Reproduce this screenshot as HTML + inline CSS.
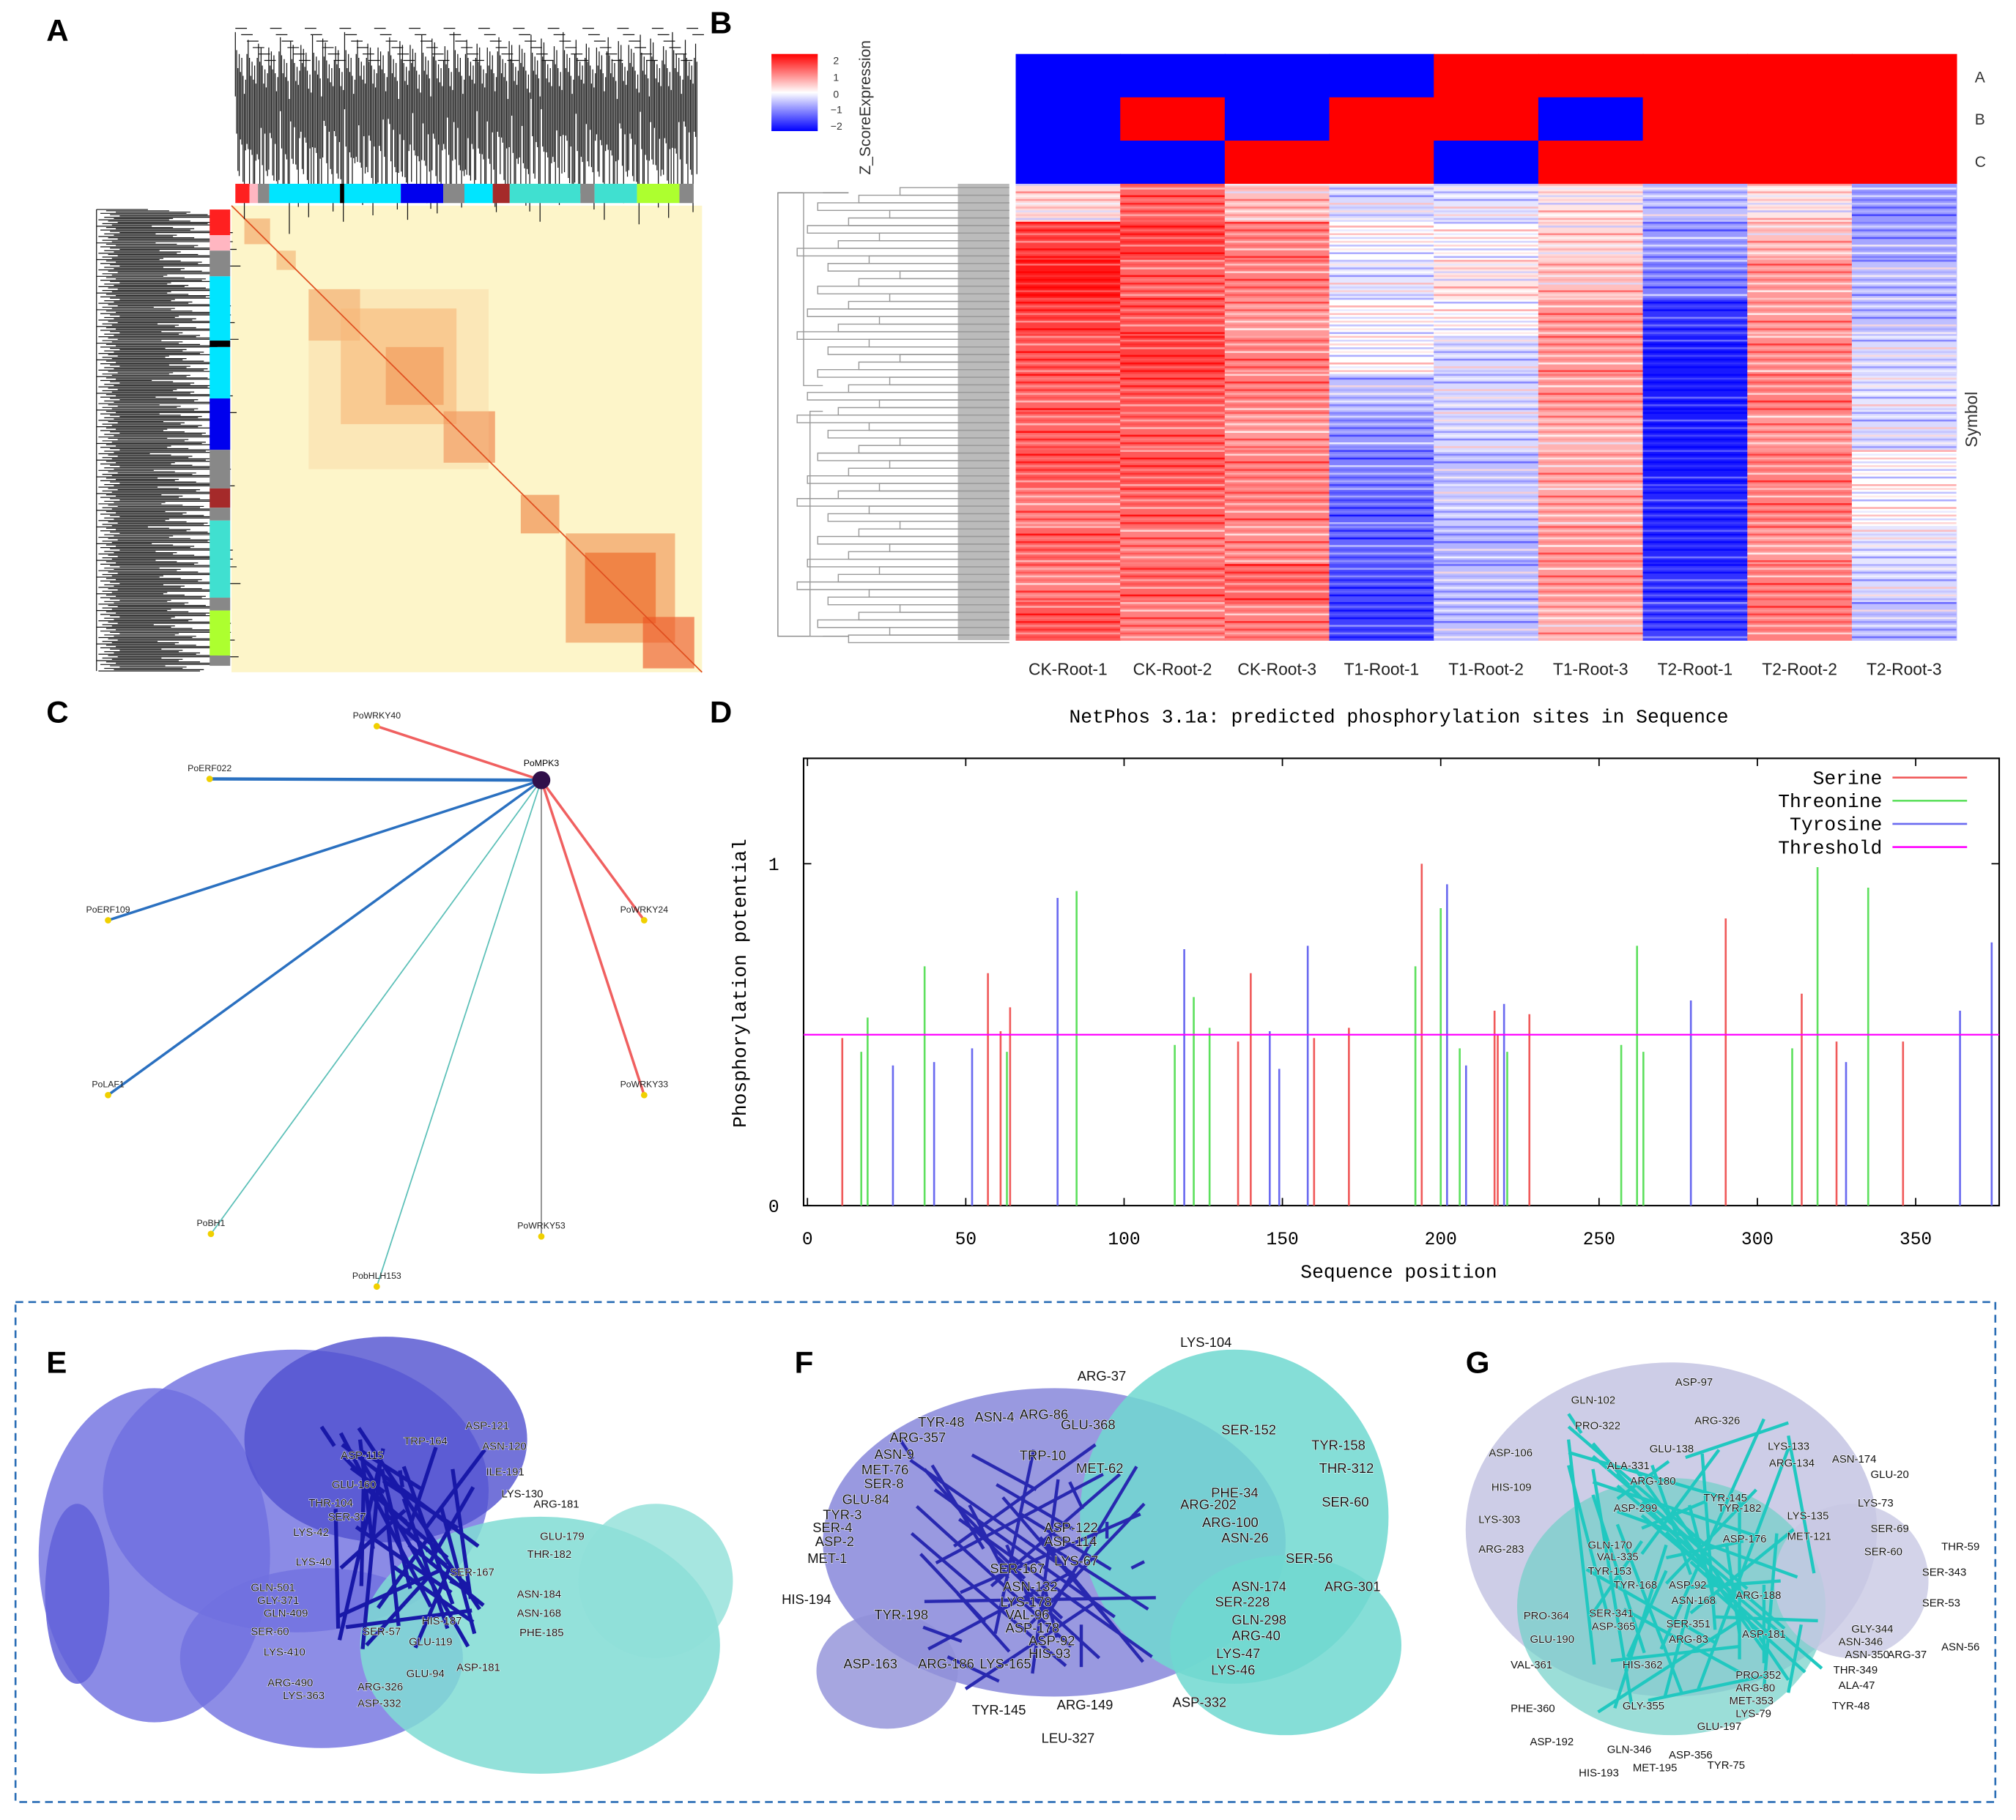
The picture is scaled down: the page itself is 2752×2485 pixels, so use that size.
<!DOCTYPE html>
<html><head><meta charset="utf-8"><style>
html,body{margin:0;padding:0;background:#fff;}
svg{display:block;font-family:"Liberation Sans",sans-serif;}
.mono{font-family:"Liberation Mono",monospace;}
</style></head><body>
<svg id="fig" width="2752" height="2485" viewBox="0 0 1568 1416" xmlns="http://www.w3.org/2000/svg">
<rect width="1568" height="1416" fill="#fff"/>
<g font-weight="bold" font-size="24">
<text x="36" y="32">A</text><text x="552" y="26">B</text><text x="36" y="562">C</text><text x="552" y="562">D</text>
<text x="36" y="1068">E</text><text x="618" y="1068">F</text><text x="1140" y="1068">G</text>
</g>
<g id="panelA">
<rect x="180" y="160" width="366" height="363" fill="#fdf5c9"/>
<g id="tomBlocks"></g>
<g id="topDendro" stroke="#111" stroke-width="0.7"></g>
<g id="leftDendro" stroke="#111" stroke-width="0.7"></g>
<g id="topColors"></g><g id="sideColors"></g>
</g>
<g id="panelB">
<defs><linearGradient id="cbar" x1="0" y1="0" x2="0" y2="1">
<stop offset="0" stop-color="#f00"/><stop offset="0.5" stop-color="#fff"/><stop offset="1" stop-color="#00f"/></linearGradient></defs>
<rect x="600" y="42" width="36" height="60" fill="url(#cbar)"/>
<g font-size="8" fill="#333"><text x="648" y="50">2</text><text x="648" y="63">1</text><text x="648" y="76">0</text><text x="646" y="88">−1</text><text x="646" y="101">−2</text></g>
<text transform="translate(677,136) rotate(-90)" font-size="12" fill="#333">Z_ScoreExpression</text>
<g id="annot"></g><g id="heat"></g><g id="bDendro" stroke="#999" stroke-width="0.8" fill="none"></g>
<g font-size="12" fill="#333"><text x="1536" y="64">A</text><text x="1536" y="97">B</text><text x="1536" y="130">C</text></g>
<text transform="translate(1538,348) rotate(-90)" font-size="13" fill="#333">Symbol</text>
<g id="colLabels" font-size="13" fill="#222" text-anchor="middle"></g>
</g>
<g id="panelC"></g>
<g id="panelD" class="mono">
<text x="1088" y="562" font-size="15" text-anchor="middle">NetPhos 3.1a: predicted phosphorylation sites in Sequence</text>
<rect x="625" y="590" width="930" height="348" fill="none" stroke="#000" stroke-width="1.2"/>
<g id="dTicks" font-size="14"></g>
<g id="dBars"></g>
<line id="thr" stroke="#f0f" stroke-width="1.3"/>
<text x="580" y="765" transform="rotate(-90 580 765)" font-size="15" text-anchor="middle">Phosphorylation potential</text>
<text x="1088" y="994" font-size="15" text-anchor="middle">Sequence position</text>
<g id="legend" font-size="15"></g>
</g>
<rect x="12" y="1013" width="1540" height="389" fill="none" stroke="#2a6db5" stroke-width="1.5" stroke-dasharray="6,4"/>
<g id="structs"></g>
</svg>
<script>
var NS="http://www.w3.org/2000/svg";
function mk(p,t,a){var e=document.createElementNS(NS,t);for(var k in a)e.setAttribute(k,a[k]);p.appendChild(e);return e;}
function $(i){return document.getElementById(i);}
var serinePos=[11,57,61,64,136,140,160,171,194,217,218,228,290,314,325,346];
var serineVal=[0.49,0.68,0.51,0.58,0.48,0.68,0.49,0.52,1.0,0.57,0.5,0.56,0.84,0.62,0.48,0.48];
var threoninePos=[17,19,37,63,85,116,122,127,192,200,206,221,257,262,264,311,319,335];
var threonineVal=[0.45,0.55,0.7,0.45,0.92,0.47,0.61,0.52,0.7,0.87,0.46,0.45,0.47,0.76,0.45,0.46,0.99,0.93];
var tyrosinePos=[27,40,52,79,119,146,149,158,202,208,220,279,328,364,374];
var tyrosineVal=[0.41,0.42,0.46,0.9,0.75,0.51,0.4,0.76,0.94,0.41,0.59,0.6,0.42,0.57,0.77];
var threshold=0.5;
var xTicks=[0,50,100,150,200,250,300,350];
var yTicks=[0,1];
function xs(v){return 628+v*2.463;}
function ys(v){return 938-v*266;}
(function(){
 var t=$("dTicks");
 xTicks.forEach(function(v){
  var l=mk(t,"line",{x1:xs(v),x2:xs(v),y1:938,y2:932,stroke:"#000"});
  
  
  mk(t,"line",{x1:xs(v),x2:xs(v),y1:590,y2:596,stroke:"#000"});
  var s=mk(t,"text",{x:xs(v),y:968,"text-anchor":"middle"});s.textContent=v;
  
  
 });
 yTicks.forEach(function(v){
  mk(t,"line",{x1:625,x2:631,y1:ys(v),y2:ys(v),stroke:"#000"});
  mk(t,"line",{x1:1549,x2:1555,y1:ys(v),y2:ys(v),stroke:"#000"});
  var s=mk(t,"text",{x:606,y:ys(v)+5,"text-anchor":"end"});s.textContent=v;
  
  
 });
 var b=$("dBars");
 function draw(P,V,c,n){P.forEach(function(p,i){var l=mk(b,"line",{x1:xs(p),x2:xs(p),y1:938,y2:ys(V[i]),stroke:c,"stroke-width":1.5});
  
  });}
 draw(serinePos,serineVal,"#f05a5a","serine-bar");
 draw(threoninePos,threonineVal,"#5ee05e","threonine-bar");
 draw(tyrosinePos,tyrosineVal,"#6a6af0","tyrosine-bar");
 var th=$("thr");th.setAttribute("x1",625);th.setAttribute("x2",1555);th.setAttribute("y1",ys(threshold));th.setAttribute("y2",ys(threshold));
 
 
 var lg=$("legend");var names=["Serine","Threonine","Tyrosine","Threshold"],cols=["#f05a5a","#5ee05e","#6a6af0","#f0f"];
 names.forEach(function(n,i){var y=610+i*18;var tx=mk(lg,"text",{x:1464,y:y,"text-anchor":"end"});tx.textContent=n;
  
  
  mk(lg,"line",{x1:1472,x2:1530,y1:y-5,y2:y-5,stroke:cols[i],"stroke-width":1.5});});
})();
var sampleNames=["CK-Root-1","CK-Root-2","CK-Root-3","T1-Root-1","T1-Root-2","T1-Root-3","T2-Root-1","T2-Root-2","T2-Root-3"];
var annotA=[0,0,0,0,1,1,1,1,1];
var annotB=[0,1,0,1,1,0,1,1,1];
var annotC=[0,0,1,1,0,1,1,1,1];
var z_CK1=[0.3,1.5,1.8,1.5,1.3,1.2,1.2,1.3,1.0,1.2,1.0,1.3];
var z_CK2=[1.2,1.5,1.2,1.3,1.5,1.3,1.2,1.3,1.2,1.0,1.2,1.0];
var z_CK3=[0.5,1.0,1.0,0.8,1.0,1.0,0.8,1.0,1.0,0.9,1.2,1.0];
var z_T11=[-0.3,0,-0.2,0,0,-0.5,-0.8,-1,-1.2,-1.2,-1.4,-1.5];
var z_T12=[-0.2,0,0.2,0,-0.3,-0.3,-0.3,-0.5,-0.4,-0.6,-0.5,-0.5];
var z_T13=[0.2,0.3,0.5,0.8,0.8,0.8,0.6,0.7,0.7,0.8,0.8,0.6];
var z_T21=[-0.5,-0.8,-1,-1.6,-1.8,-1.8,-1.8,-1.8,-1.7,-1.7,-1.6,-1.5];
var z_T22=[0.2,0.5,0.8,0.8,0.9,1.0,0.8,1.0,1.0,0.8,1.0,1.0];
var z_T23=[-0.8,-0.7,-0.5,-0.5,-0.3,-0.2,-0.3,0,0,-0.2,-0.3,-0.5];
var zCols=[z_CK1,z_CK2,z_CK3,z_T11,z_T12,z_T13,z_T21,z_T22,z_T23];
function zc(v){v=Math.max(-2,Math.min(2,v))/2;var k=Math.round(255*(1-Math.abs(v)));return v>=0?"rgb(255,"+k+","+k+")":"rgb("+k+","+k+",255)";}
(function(){
 var x0=790,cw=81.3,an=$("annot");
 [annotA,annotB,annotC].forEach(function(r,ri){r.forEach(function(v,i){var e=mk(an,"rect",{x:x0+i*cw,y:42+ri*33.7,width:cw+0.5,height:34,fill:v?"#f00":"#00f"});
  
  });});
 var h=$("heat"),rh=355/zCols[0].length;
 zCols.forEach(function(col,i){
  col.forEach(function(v,j){
   var e=mk(h,"rect",{x:x0+i*cw,y:143+j*rh,width:cw+0.5,height:rh+0.5,fill:zc(v)});
   
   
   for(var s=0;s<10;s++){var d=((j*7+s*13+i*5)%9-4)*0.2;mk(h,"rect",{x:x0+i*cw,y:143+j*rh+s*rh/10,width:cw,height:rh/20,fill:zc(v+d),opacity:0.8});}
  });
  var t=mk($("colLabels"),"text",{x:x0+i*cw+cw/2,y:525});t.textContent=sampleNames[i];
  
  
 });
 var g=$("bDendro");
 mk(g,"rect",{x:745,y:143,width:40,height:355,fill:"#aaa",stroke:"none",opacity:0.8});
 for(var k=0;k<60;k++){var y=146+k*5.9,x=700-((k*37)%11)*8;mk(g,"path",{d:"M785 "+y+" H"+x+" V"+(y+5.9)+" H785"});}
 mk(g,"path",{d:"M660 150 H605 V495 H660",stroke:"#888"});
 mk(g,"path",{d:"M640 150 H625 V300 H640 M640 320 H630 V495 H640"});
})();
(function(){
 var tb=$("tomBlocks");
 var blocks=[[190,170,20,"#f2a060"],[215,195,15,"#f4b070"],[240,225,40,"#f0a060"],[265,240,90,"#f6b070"],[300,270,45,"#ee8040"],[345,320,40,"#ee7a40"],[405,385,30,"#ee8040"],[440,415,85,"#f09050"],[455,430,55,"#ec6020"],[500,480,40,"#ec5020"]];
 blocks.forEach(function(b){var e=mk(tb,"rect",{x:b[0],y:b[1],width:b[2],height:b[2],fill:b[3],opacity:0.6});
  
  });
 mk(tb,"rect",{x:240,y:225,width:140,height:140,fill:"#f8c890",opacity:0.3});
 mk(tb,"line",{x1:180,y1:160,x2:546,y2:523,stroke:"#e05020","stroke-width":1});
 var td=$("topDendro");
 for(var i=0;i<360;i++){var x=183+i*1,y=25+((i*53)%17)*2+((i*7)%5)*5;mk(td,"line",{x1:x,x2:x,y1:y,y2:y+50+((i*29)%23)*2.5});}
 for(var i=0;i<80;i++){var x=183+i*4.5;mk(td,"line",{x1:x,x2:x+9,y1:22+(i%6)*5,y2:22+(i%6)*5});}
 var ld=$("leftDendro");
 for(var i=0;i<360;i++){var y=163+i*1,x=75+((i*31)%13)*1.5;mk(ld,"line",{y1:y,y2:y,x1:x,x2:x+40+((i*41)%19)*3});}
 mk(ld,"line",{x1:75,x2:75,y1:163,y2:522});
 var topC=[["#ff2020",10,8],["#ffb6c1",6],["#888",8],["#00e5ff",50],["#000",3],["#00e5ff",40],["#0000ee",30],["#888",15],["#00e5ff",20],["#a52a2a",12],["#40e0d0",50],["#888",10],["#40e0d0",30],["#adff2f",30],["#888",10]];
 var x=183;topC.forEach(function(c){mk($("topColors"),"rect",{x:x,y:143,width:c[1]*1.1,height:15,fill:c[0]});x+=c[1]*1.1;});
 var sideC=[["#ff2020",20],["#ffb6c1",12],["#888",20],["#00e5ff",50],["#000",5],["#00e5ff",40],["#0000ee",40],["#888",30],["#a52a2a",15],["#888",10],["#40e0d0",60],["#888",10],["#adff2f",35],["#888",8]];
 var y=163;sideC.forEach(function(c){mk($("sideColors"),"rect",{x:163,y:y,width:16,height:c[1],fill:c[0]});y+=c[1];});
})();
(function(){
 var g=$("panelC"),hx=421,hy=607;
 var nodes=[["PoWRKY40",293,565,"#f06060",2],["PoERF022",163,606,"#2a70c0",2.5],["PoERF109",84,716,"#2a70c0",2],["PoLAF1",84,852,"#2a70c0",2],["PoBH1",164,960,"#5cc0b8",1],["PobHLH153",293,1001,"#5cc0b8",1],["PoWRKY53",421,962,"#888",1],["PoWRKY33",501,852,"#f06060",2],["PoWRKY24",501,716,"#f06060",2]];
 nodes.forEach(function(n){var l=mk(g,"line",{x1:hx,y1:hy,x2:n[1],y2:n[2],stroke:n[3],"stroke-width":n[4]});
  
  
  var c=mk(g,"circle",{cx:n[1],cy:n[2],r:2.5,fill:"#f0d000"});
  
  
  var t=mk(g,"text",{x:n[1],y:n[2]-6,"font-size":7,"text-anchor":"middle",fill:"#222"});t.textContent=n[0];});
 var h=mk(g,"circle",{cx:hx,cy:hy,r:7,fill:"#30104a"});
 
 
 var t=mk(g,"text",{x:hx,y:hy-11,"font-size":7,"text-anchor":"middle"});t.textContent="PoMPK3";
})();
(function(){
 var g=$("structs");
 function blob(cx,cy,rx,ry,c,o){mk(g,"ellipse",{cx:cx,cy:cy,rx:rx,ry:ry,fill:c,opacity:o});}
 blob(120,1210,90,130,"#6e6ee0",0.8);blob(230,1160,150,110,"#6e6ee0",0.8);blob(300,1120,110,80,"#5050d0",0.8);blob(250,1290,110,70,"#7070e0",0.8);blob(60,1240,25,70,"#6060d8",0.85);
 blob(420,1280,140,100,"#80dcd4",0.85);blob(510,1230,60,60,"#90e0d8",0.8);
 blob(820,1200,180,120,"#8080d8",0.8);blob(960,1180,120,130,"#70d8d0",0.85);blob(1000,1280,90,70,"#70d8d0",0.85);blob(690,1300,55,45,"#9090d8",0.8);
 blob(1300,1190,160,130,"#c8c8e4",0.9);blob(1300,1250,120,100,"#70d0c8",0.7);blob(1440,1230,60,60,"#c8c8e4",0.8);
 for(var i=0;i<40;i++){mk(g,"line",{x1:250+(i*17)%120,y1:1110+(i*23)%170,x2:260+(i*29)%120,y2:1125+(i*31)%170,stroke:"#1818a8","stroke-width":3});}
 for(var i=0;i<40;i++){mk(g,"line",{x1:700+(i*19)%200,y1:1120+(i*23)%180,x2:710+(i*29)%200,y2:1135+(i*31)%180,stroke:"#2828b0","stroke-width":2.5});}
 for(var i=0;i<50;i++){mk(g,"line",{x1:1220+(i*19)%190,y1:1100+(i*23)%220,x2:1230+(i*29)%190,y2:1115+(i*31)%220,stroke:"#20c8c0","stroke-width":2.5});}
 var E=[["ASP-121",362,1112],["ASN-120",375,1128],["TRP-164",314,1124],["ASP-115",265,1135],["ILE-191",378,1148],["GLU-160",258,1158],["LYS-130",390,1165],["ARG-181",415,1173],["THR-104",240,1172],["SER-37",255,1183],["GLU-179",420,1198],["LYS-42",228,1195],["THR-182",410,1212],["LYS-40",230,1218],["SER-167",350,1226],["GLN-501",195,1238],["ASN-184",402,1243],["GLY-371",200,1248],["ASN-168",402,1258],["GLN-409",205,1258],["HIS-187",328,1264],["PHE-185",404,1273],["SER-60",195,1272],["SER-57",282,1272],["GLU-119",318,1280],["LYS-410",205,1288],["GLU-94",316,1305],["ASP-181",355,1300],["ARG-490",208,1312],["ARG-326",278,1315],["LYS-363",220,1322],["ASP-332",278,1328]];
 var F=[["LYS-104",918,1048],["ARG-37",838,1074],["TYR-48",714,1110],["ASN-4",758,1106],["ARG-86",793,1104],["GLU-368",825,1112],["ARG-357",692,1122],["SER-152",950,1116],["TYR-158",1020,1128],["ASN-9",680,1135],["TRP-10",793,1136],["MET-62",837,1146],["THR-312",1026,1146],["MET-76",670,1147],["SER-8",672,1158],["PHE-34",942,1165],["GLU-84",655,1170],["SER-60",1028,1172],["ARG-202",918,1174],["TYR-3",640,1182],["ARG-100",935,1188],["SER-4",632,1192],["ASP-122",812,1192],["ASN-26",950,1200],["ASP-2",634,1203],["ASP-114",812,1203],["MET-1",628,1216],["LYS-67",820,1218],["SER-56",1000,1216],["SER-167",770,1224],["ASN-132",780,1238],["ASN-174",958,1238],["ARG-301",1030,1238],["HIS-194",608,1248],["LYS-178",778,1250],["SER-228",945,1250],["TYR-198",680,1260],["VAL-96",782,1260],["GLN-298",958,1264],["ASP-178",782,1270],["ARG-40",958,1276],["ASP-92",800,1280],["HIS-93",800,1290],["LYS-47",946,1290],["ASP-163",656,1298],["ARG-186",714,1298],["LYS-165",762,1298],["LYS-46",942,1303],["TYR-145",756,1334],["ARG-149",822,1330],["ASP-332",912,1328],["LEU-327",810,1356]];
 var G=[["ASP-97",1303,1078],["GLN-102",1222,1092],["ARG-326",1318,1108],["PRO-322",1225,1112],["LYS-133",1375,1128],["GLU-138",1283,1130],["ASP-106",1158,1133],["ARG-134",1376,1141],["ASN-174",1425,1138],["ALA-331",1250,1143],["GLU-20",1455,1150],["ARG-180",1268,1155],["HIS-109",1160,1160],["TYR-145",1325,1168],["TYR-182",1336,1176],["ASP-299",1255,1176],["LYS-73",1445,1172],["LYS-135",1390,1182],["LYS-303",1150,1185],["SER-69",1455,1192],["ASP-176",1340,1200],["MET-121",1390,1198],["GLN-170",1235,1205],["ARG-283",1150,1208],["THR-59",1510,1206],["SER-60",1450,1210],["VAL-335",1242,1214],["TYR-153",1235,1225],["SER-343",1495,1226],["TYR-168",1255,1236],["ASP-92",1298,1236],["ASN-168",1300,1248],["ARG-188",1350,1244],["SER-53",1495,1250],["SER-341",1236,1258],["GLY-344",1440,1270],["PRO-364",1185,1260],["ASP-365",1238,1268],["SER-351",1296,1266],["ARG-83",1298,1278],["ASP-181",1355,1274],["ASN-346",1430,1280],["GLU-190",1190,1278],["ASN-350",1435,1290],["ARG-37",1468,1290],["ASN-56",1510,1284],["VAL-361",1175,1298],["HIS-362",1262,1298],["THR-349",1426,1302],["PRO-352",1350,1306],["ALA-47",1430,1314],["ARG-80",1350,1316],["MET-353",1345,1326],["TYR-48",1425,1330],["PHE-360",1175,1332],["GLY-355",1262,1330],["LYS-79",1350,1336],["GLU-197",1320,1346],["ASP-192",1190,1358],["GLN-346",1250,1364],["ASP-356",1298,1368],["TYR-75",1328,1376],["MET-195",1270,1378],["HIS-193",1228,1382]];
 function labels(L,fs){L.forEach(function(l){var t=mk(g,"text",{x:l[1],y:l[2],"font-size":fs,fill:"#111",stroke:"#fff","stroke-width":0.6,"paint-order":"stroke"});t.textContent=l[0];
  
  });}
 labels(E,8.5);labels(F,10.5);labels(G,8.5);
})();
</script>
</body></html>
